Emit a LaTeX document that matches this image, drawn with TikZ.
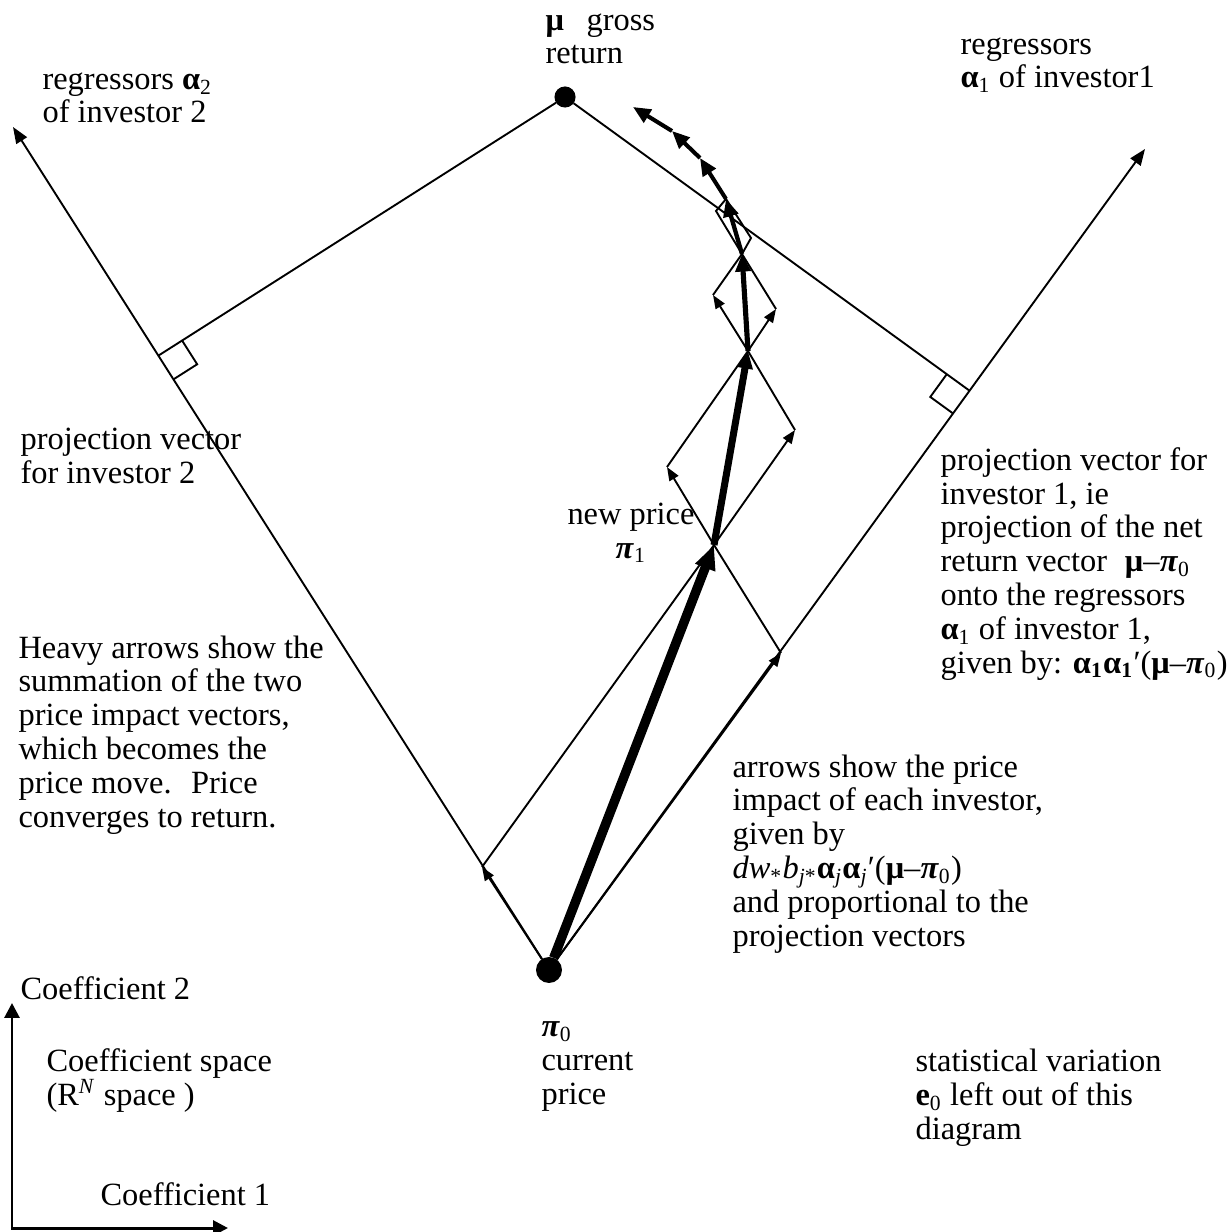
\documentclass[tikz,border=0pt]{standalone}
\usepackage{fontspec}
\setmainfont{Liberation Serif}
\usepackage{tikz}
\usetikzlibrary{arrows.meta,calc}
\tikzset{
    axis/.style={-{Triangle[length=6pt, width=4.6pt]}, line width=0.7pt},
    impact/.style={-{Triangle[length=5pt, width=3.8pt]}, line width=0.7pt},
    heavy/.style={-{Triangle[length=6.5pt, width=5.5pt]}, line width=#1},
    bighead/.style={-{Triangle[length=9pt, width=7.4pt]}},
    dot/.style={draw, circle, fill, inner sep=0pt, minimum size=#1},
    txt/.style={anchor=base west, align=left, inner sep=0pt, font=\fontsize{12}{12.5}\selectfont},
    coef/.style={{Triangle[length=5.5pt, width=5.5pt]}-{Triangle[length=5.5pt, width=5.5pt]}, line width=1.1pt}
}
\newcommand{\gb}[1]{\textbf{#1}}
\newcommand{\gp}{\textbf{\textit{π}}}

\begin{document}
\begin{tikzpicture}[x=0.37pt, y=-0.37pt]
    \useasboundingbox (0,0) rectangle (1228,1232);

    % current price and gross return
    \node[dot=9.2pt] (P0) at (549,970) {};
    \node[dot=7.4pt] (mu) at (565,97) {};

    % regressor axes and projections
    \coordinate (L) at (13,127);
    \coordinate (R) at (1145,149);
    \coordinate (Lf) at ($(P0)!(mu)!(L)$);
    \coordinate (Rf) at ($(P0)!(mu)!(R)$);
    \draw[axis] (P0) -- (L);
    \draw[axis] (P0) -- (R);
    \draw[line width=0.7pt] (mu) -- (Lf);
    \draw[line width=0.7pt] (mu) -- (Rf);

    % right angles
    \coordinate (Lm) at ($(Lf)!10.4pt!(mu)$);
    \coordinate (Lp) at ($(Lf)!10.4pt!(P0)$);
    \coordinate (Rm) at ($(Rf)!10.4pt!(mu)$);
    \coordinate (Rp) at ($(Rf)!10.4pt!(P0)$);
    \draw[line width=0.7pt] (Lm) -- ($(Lm)+(Lp)-(Lf)$) -- (Lp);
    \draw[line width=0.7pt] (Rm) -- ($(Rm)+(Rp)-(Rf)$) -- (Rp);

    % price steps
    \coordinate (a1) at (482,867);
    \coordinate (b1) at (781,653);
    \coordinate (p1) at (714,545);
    \coordinate (c1) at (667,467);
    \coordinate (d1) at (795,430);
    \coordinate (p2) at (748,351);
    \coordinate (e1) at (713,295);
    \coordinate (f1) at (776,309);
    \coordinate (p3) at (742,254);
    \coordinate (g1) at (716,211);
    \coordinate (h1) at (751,238);
    \coordinate (p4) at (726,199);
    \coordinate (q1) at (700,158);
    \coordinate (q2) at (672,131);
    \coordinate (q3) at (633,107);

    \draw[impact] (P0) -- (a1);
    \draw[impact] (P0) -- (b1);
    \draw[line width=0.7pt] (a1) -- (p1) -- (b1);
    \draw[impact] (p1) -- (c1);
    \draw[impact] (p1) -- (d1);
    \draw[line width=0.7pt] (c1) -- (p2) -- (d1);
    \draw[impact] (p2) -- (e1);
    \draw[impact] (p2) -- (f1);
    \draw[line width=0.7pt] (e1) -- (p3) -- (f1);
    \draw[line width=0.7pt] (p3) -- (g1) -- (p4) -- (h1) -- cycle;

    % heavy arrows
    \draw[heavy=3.5pt, bighead] (P0) -- (p1);
    \draw[heavy=2.6pt] (p1) -- (p2);
    \draw[heavy=1.9pt] (p2) -- (p3);
    \draw[heavy=1.6pt] (p3) -- (p4);
    \foreach \s/\e in {p4/q1, q1/q2, q2/q3}
        \draw[heavy=1.5pt] (\s) -- (\e);

    % coefficient axes
    \coordinate (O) at (12,1228);
    \coordinate (C2) at (12,1003);
    \coordinate (C1) at (228,1228);
    \draw[coef] (C2) -- (O) -- (C1);

    % labels (base = last line)
    \node[txt] (tmu) at (545,64) {\gb{μ}\hspace{0.7em}gross\\return};
    \node[txt] (treg2) at (42,123) {regressors \gb{α}\textsubscript{2}\\of investor 2};
    \node[txt] (treg1) at (960,88) {regressors\\\gb{α}\textsubscript{1} of investor1};
    \node[txt] (tproj2) at (20,483) {projection vector\\for investor 2};
    \node[txt] (tproj1) at (940,673) {projection vector for\\investor 1, ie\\projection of the net\\return vector \hspace{0.3em}\gb{μ}–\gp\textsubscript{0}\\onto the regressors\\\gb{α}\textsubscript{1} of investor 1,\\given by: \gb{α}\textsubscript{\textbf{1}}\gb{α}\textsubscript{\textbf{1}}′(\gb{μ}–\gp\textsubscript{0})};
    \node[txt, anchor=base, align=center] (tnew) at (631,558) {new price\\\gp\textsubscript{1}};
    \node[txt] (theavy) at (18,827) {Heavy arrows show the\\summation of the two\\price impact vectors,\\which becomes the\\price move.\hspace{0.6em}Price\\converges to return.};
    \node[txt] (tarr) at (732,946) {arrows show the price\\impact of each investor,\\given by\\\textit{dw}\textsubscript{*}\textit{b}\textsubscript{\textit{j}*}\gb{α}\textsubscript{\textit{j}}\gb{α}\textsubscript{\textit{j}}′(\gb{μ}–\gp\textsubscript{0})\\and proportional to the\\projection vectors};
    \node[txt] (tpi0) at (541,1104) {\gp\textsubscript{0}\\current\\price};
    \node[txt] (tc2) at (20,999) {Coefficient 2};
    \node[txt] (tcs) at (46,1105) {Coefficient space\\(R\textsuperscript{\textit{N}} space )};
    \node[txt] (tc1) at (100,1205) {Coefficient 1};
    \node[txt] (tstat) at (915,1139) {statistical variation\\\textbf{e}\textsubscript{0} left out of this\\diagram};
\end{tikzpicture}
\end{document}
